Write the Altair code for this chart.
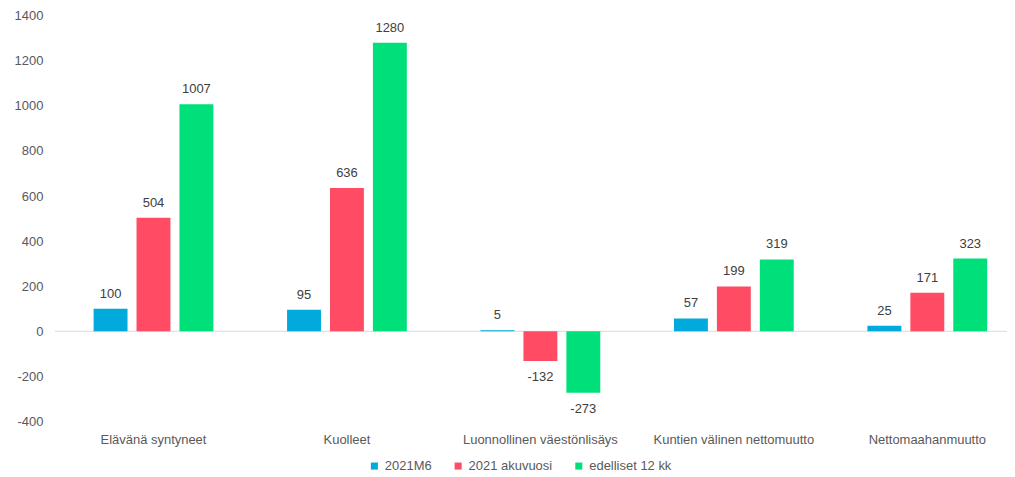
import altair as alt
import pandas as pd

categories = ["Elävänä syntyneet", "Kuolleet", "Luonnollinen väestönlisäys",
              "Kuntien välinen nettomuutto", "Nettomaahanmuutto"]
series = ["2021M6", "2021 akuvuosi", "edelliset 12 kk"]
v_2021m6 = [100, 95, 5, 57, 25]
v_akuvuosi = [504, 636, -132, 199, 171]
v_edelliset = [1007, 1280, -273, 319, 323]
colors = ["#00AADC", "#FF4B64", "#00E07A"]

rows = []
for s, vals in zip(series, [v_2021m6, v_akuvuosi, v_edelliset]):
    for c, v in zip(categories, vals):
        rows.append({"cat": c, "series": s, "value": v})
df = pd.DataFrame(rows)

FONT = "Liberation Sans"
FS = 13
x = alt.X("cat:N", sort=categories, title=None,
          scale=alt.Scale(range=[2, 972], paddingInner=0.381, paddingOuter=0.19),
          axis=alt.Axis(labelAngle=0, domain=False, ticks=False, labelPadding=12,
                        labelFontSize=FS, labelColor="#595959", labelFont=FONT))
xo = alt.XOffset("series:N", sort=series,
                 scale=alt.Scale(paddingInner=0.21, paddingOuter=0))
y = alt.Y("value:Q", title=None,
          scale=alt.Scale(domain=[-400, 1400], nice=False),
          axis=alt.Axis(values=list(range(-400, 1401, 200)), grid=False, domain=False,
                        ticks=False, labelPadding=12, labelFontSize=FS, format="d",
                        labelExpr="replace(datum.label, '\u2212', '-')",
                        labelColor="#595959", labelFont=FONT))

base = alt.Chart(df).transform_calculate(lbl="'' + datum.value")
bars = base.mark_bar().encode(
    x=x, xOffset=xo, y=y,
    color=alt.Color("series:N", sort=series,
                    scale=alt.Scale(domain=series, range=colors),
                    legend=alt.Legend(title=None, orient="none", direction="horizontal",
                                      legendX=314, legendY=445, symbolType="square",
                                      symbolSize=50, symbolStrokeWidth=0,
                                      labelFontSize=FS, labelColor="#595959",
                                      labelFont=FONT, columnPadding=20,
                                      symbolOffset=0, labelOffset=4)),
)
zero = alt.Chart(pd.DataFrame({"z": [0]})).mark_rule(color="#D9D9D9", strokeWidth=1).encode(
    y=alt.Y("z:Q", scale=alt.Scale(domain=[-400, 1400], nice=False)),
    x=alt.value(0), x2=alt.value(965))
pos = base.transform_filter("datum.value >= 0").mark_text(
    baseline="bottom", dy=-8, fontSize=FS, color="#404040", font=FONT).encode(
    x=x, xOffset=xo, y=y, text="lbl:N")
neg = base.transform_filter("datum.value < 0").mark_text(
    baseline="top", dy=10, fontSize=FS, color="#404040", font=FONT).encode(
    x=x, xOffset=xo, y=y, text="lbl:N")

chart = alt.layer(zero, bars, pos, neg).properties(
    width=955, height=407,
    autosize=alt.AutoSizeParams(type="none"),
    padding={"left": 47, "top": 7, "right": 0, "bottom": 55},
).configure_view(stroke=None)

chart.save("out.html", embed_options={"renderer": "svg", "actions": False})
